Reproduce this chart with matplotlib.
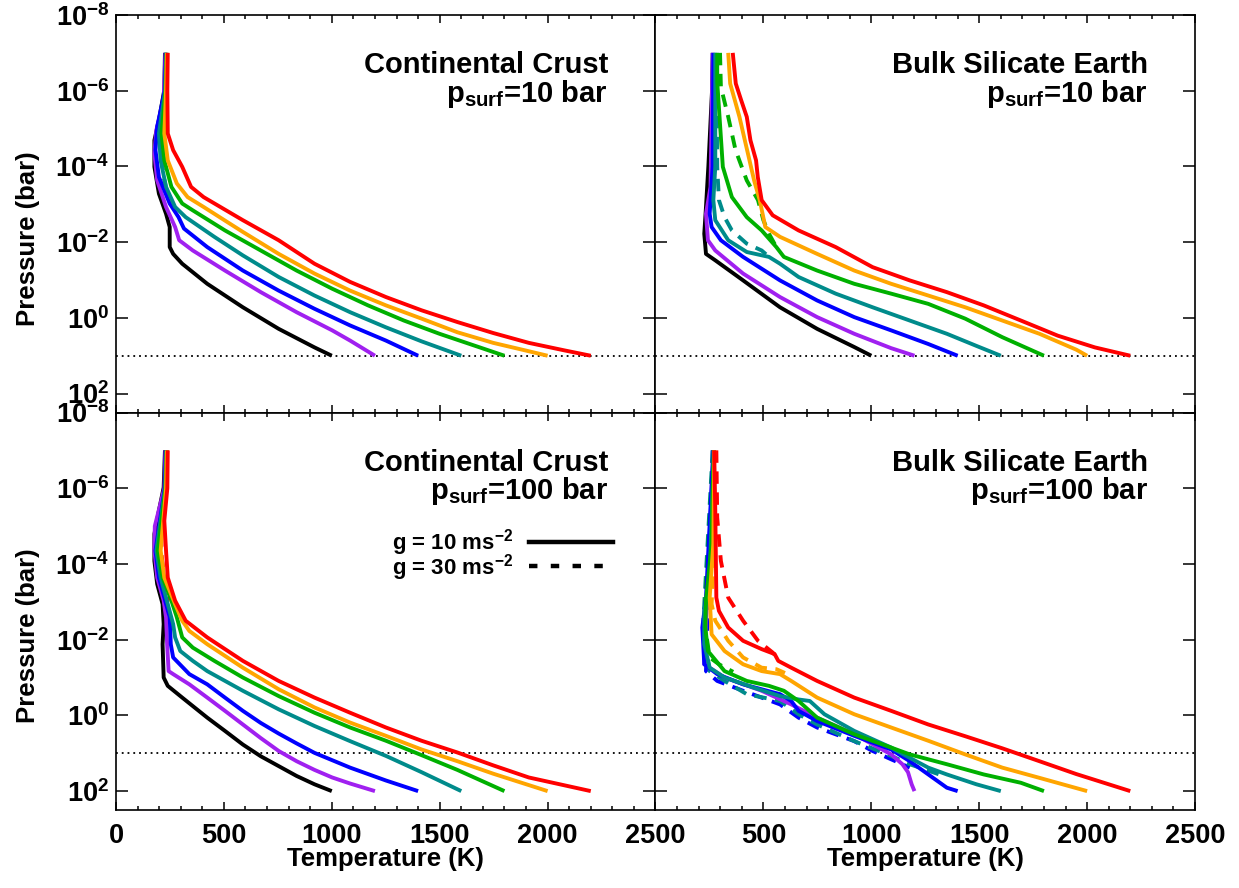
import numpy as np
import matplotlib
matplotlib.use("Agg")
import matplotlib.pyplot as plt
from matplotlib.lines import Line2D
from matplotlib.ticker import FixedLocator, FixedFormatter, MultipleLocator, NullLocator

# colours of the surface-temperature series (1000 ... 2200 K)
BLACK, PURPLE, BLUE, TEAL = "#000000", "#a020f0", "#0000ff", "#008b8b"
GREEN, ORANGE, RED = "#00b000", "#ffa500", "#ff0000"

# ---- Continental crust, p_surf = 10 bar (temperature K, log10 pressure bar)
cc10_black_t = [227, 224, 199, 178, 178, 199, 232, 249, 249, 265, 307, 423, 588, 754, 920, 1000]
cc10_black_lp = [-7, -6.02, -5.22, -4.69, -3.99, -3.28, -2.75, -2.40, -1.87, -1.69, -1.43, -0.90, -0.28, 0.29, 0.78, 1]
cc10_purple_t = [229, 221, 187, 178, 191, 232, 274, 293, 356, 505, 671, 837, 1002, 1085, 1200]
cc10_purple_lp = [-7, -5.75, -4.96, -4.34, -3.63, -2.93, -2.40, -2.05, -1.78, -1.25, -0.68, -0.15, 0.33, 0.60, 1]
cc10_blue_t = [231, 226, 191, 183, 199, 249, 290, 315, 423, 588, 754, 920, 1085, 1251, 1400]
cc10_blue_lp = [-7, -6, -5.05, -4.43, -3.72, -3.02, -2.66, -2.36, -1.87, -1.25, -0.72, -0.24, 0.20, 0.60, 1]
cc10_teal_t = [233, 228, 199, 207, 232, 274, 323, 456, 588, 754, 920, 1085, 1251, 1416, 1600]
cc10_teal_lp = [-7, -6, -4.87, -4.16, -3.46, -2.93, -2.66, -2.14, -1.65, -1.08, -0.59, -0.15, 0.25, 0.62, 1]
cc10_green_t = [235, 230, 211, 224, 257, 307, 356, 505, 671, 837, 1002, 1168, 1334, 1499, 1665, 1800]
cc10_green_lp = [-7, -6, -4.87, -4.16, -3.46, -3.02, -2.84, -2.31, -1.78, -1.25, -0.77, -0.33, 0.07, 0.42, 0.74, 1]
cc10_orange_t = [236, 232, 224, 240, 282, 332, 406, 588, 754, 920, 1085, 1251, 1416, 1582, 1748, 1897, 2000]
cc10_orange_lp = [-7, -6, -4.87, -4.16, -3.55, -3.19, -2.93, -2.27, -1.69, -1.17, -0.72, -0.33, 0.02, 0.38, 0.66, 0.86, 1]
cc10_red_t = [240, 238, 240, 265, 307, 348, 406, 588, 754, 920, 1085, 1251, 1416, 1582, 1748, 1913, 2079, 2200]
cc10_red_lp = [-7, -6, -4.87, -4.43, -3.99, -3.46, -3.19, -2.58, -2.05, -1.43, -0.95, -0.55, -0.20, 0.11, 0.40, 0.66, 0.86, 1]
cc10_teal_dash_t = [233, 228, 212, 210, 222, 245]
cc10_teal_dash_lp = [-7, -6, -4.9, -4.3, -3.7, -3.1]

# ---- Bulk silicate Earth, p_surf = 10 bar
bse10_black_t = [265, 262, 245, 234, 226, 234, 277, 406, 577, 749, 921, 1000]
bse10_black_lp = [-7, -6, -4.0, -2.93, -2.22, -1.69, -1.52, -0.99, -0.28, 0.29, 0.77, 1]
bse10_purple_t = [265, 262, 255, 234, 243, 277, 406, 577, 749, 921, 1092, 1200]
bse10_purple_lp = [-7, -6, -3.46, -2.75, -2.05, -1.78, -1.17, -0.55, -0.02, 0.42, 0.80, 1]
bse10_blue_t = [268, 265, 251, 260, 303, 406, 577, 749, 921, 1092, 1264, 1400]
bse10_blue_lp = [-7, -4.0, -2.75, -2.40, -2.05, -1.61, -0.99, -0.46, -0.02, 0.33, 0.69, 1]
bse10_teal_t = [277, 277, 268, 277, 337, 423, 526, 577, 663, 835, 1006, 1178, 1350, 1487, 1600]
bse10_teal_lp = [-7, -3.99, -3.11, -2.58, -2.05, -1.74, -1.61, -1.43, -1.08, -0.64, -0.28, 0.07, 0.42, 0.74, 1]
bse10_green_t = [286, 286, 312, 354, 423, 492, 560, 595, 749, 921, 1092, 1264, 1435, 1607, 1800]
bse10_green_lp = [-7, -6.24, -3.99, -3.19, -2.66, -2.31, -1.87, -1.61, -1.25, -0.90, -0.64, -0.37, 0.02, 0.51, 1]
bse10_orange_t = [337, 346, 389, 414, 432, 457, 483, 509, 577, 749, 921, 1092, 1264, 1435, 1607, 1779, 1950, 2000]
bse10_orange_lp = [-7, -6.19, -5.31, -4.69, -4.25, -3.63, -3.11, -2.40, -2.14, -1.69, -1.25, -0.90, -0.59, -0.28, 0.07, 0.42, 0.84, 1]
bse10_red_t = [358, 372, 397, 423, 440, 466, 474, 492, 543, 663, 835, 1006, 1178, 1350, 1521, 1693, 1864, 2036, 2200]
bse10_red_lp = [-7, -6.19, -5.75, -5.31, -4.69, -4.16, -3.72, -3.11, -2.71, -2.31, -1.87, -1.34, -0.99, -0.68, -0.33, 0.07, 0.47, 0.78, 1]
bse10_teal_dash_t = [282, 286, 294, 320, 354, 423, 492, 526]
bse10_teal_dash_lp = [-7, -3.99, -3.11, -2.66, -2.31, -1.96, -1.78, -1.61]
bse10_green_dash_t = [299, 303, 337, 371, 423, 475, 500, 526, 560]
bse10_green_dash_lp = [-7, -6.10, -5.31, -4.43, -3.63, -3.11, -2.58, -2.22, -1.87]

# ---- Continental crust, p_surf = 100 bar
cc100_black_t = [227, 221, 199, 178, 178, 191, 216, 221, 216, 221, 240, 307, 423, 505, 588, 671, 754, 837, 920, 1000]
cc100_black_lp = [-7, -6.02, -5.41, -4.79, -4.08, -3.47, -2.94, -2.41, -1.88, -1.0, -0.78, -0.47, 0.06, 0.41, 0.77, 1.08, 1.34, 1.60, 1.82, 2]
cc100_purple_t = [229, 224, 180, 178, 191, 221, 232, 237, 244, 265, 340, 423, 505, 588, 671, 754, 837, 920, 1002, 1085, 1200]
cc100_purple_lp = [-7, -6, -5.0, -4.35, -3.64, -3.03, -2.59, -1.88, -1.17, -1.09, -0.82, -0.47, -0.12, 0.24, 0.60, 0.94, 1.21, 1.44, 1.64, 1.80, 2]
cc100_blue_t = [231, 226, 183, 199, 224, 249, 254, 265, 340, 423, 505, 588, 671, 754, 837, 920, 1085, 1251, 1400]
cc100_blue_lp = [-7, -6, -4.35, -3.64, -3.11, -2.59, -1.88, -1.53, -1.09, -0.82, -0.47, -0.12, 0.20, 0.48, 0.74, 0.99, 1.38, 1.72, 2]
cc100_teal_t = [233, 228, 187, 207, 240, 265, 274, 298, 356, 423, 588, 754, 920, 1085, 1251, 1416, 1600]
cc100_teal_lp = [-7, -6, -4.35, -3.64, -2.94, -2.41, -2.06, -1.70, -1.44, -1.17, -0.65, -0.16, 0.28, 0.68, 1.07, 1.50, 2]
cc100_green_t = [235, 230, 194, 216, 257, 282, 307, 356, 456, 588, 754, 920, 1085, 1251, 1416, 1582, 1800]
cc100_green_lp = [-7, -6, -4.35, -3.64, -3.03, -2.59, -2.06, -1.79, -1.44, -1.0, -0.51, -0.07, 0.32, 0.67, 1.05, 1.44, 2]
cc100_orange_t = [236, 232, 207, 224, 274, 307, 340, 423, 588, 754, 920, 1085, 1251, 1416, 1582, 1748, 2000]
cc100_orange_lp = [-7, -6, -4.35, -3.64, -2.94, -2.50, -2.23, -1.88, -1.26, -0.69, -0.21, 0.19, 0.54, 0.90, 1.21, 1.54, 2]
cc100_red_t = [240, 238, 224, 232, 240, 274, 323, 423, 588, 754, 920, 1085, 1251, 1416, 1582, 1748, 1913, 2200]
cc100_red_lp = [-7, -6, -5.14, -4.35, -3.64, -3.03, -2.50, -2.06, -1.44, -0.91, -0.47, -0.07, 0.32, 0.67, 0.98, 1.32, 1.64, 2]
cc100_red_dash_t = [236, 222, 210, 212, 225, 240]
cc100_red_dash_lp = [-7, -5.5, -4.7, -4.2, -3.6, -3.0]

# ---- Bulk silicate Earth, p_surf = 100 bar
bse100_purple_t = [268, 226, 320, 492, 629, 749, 921, 1092, 1144, 1170, 1187, 1200]
bse100_purple_lp = [-7, -1.35, -1.0, -0.65, -0.29, 0.06, 0.50, 1.03, 1.29, 1.50, 1.82, 2]
bse100_blue_t = [268, 234, 217, 226, 286, 406, 577, 629, 663, 749, 921, 1092, 1178, 1264, 1350, 1400]
bse100_blue_lp = [-7, -3.11, -2.32, -1.35, -1.09, -0.82, -0.56, -0.38, -0.12, 0.15, 0.54, 0.90, 1.21, 1.56, 1.91, 2]
bse100_teal_t = [270, 251, 226, 226, 251, 320, 457, 577, 663, 715, 783, 921, 1092, 1178, 1264, 1350, 1487, 1600]
bse100_teal_lp = [-7, -3.64, -2.76, -1.88, -1.26, -1.0, -0.73, -0.51, -0.42, -0.38, -0.03, 0.41, 0.85, 1.12, 1.38, 1.56, 1.82, 2]
bse100_green_t = [270, 260, 234, 231, 243, 320, 423, 526, 595, 663, 749, 921, 1092, 1178, 1350, 1521, 1693, 1800]
bse100_green_lp = [-7, -4.53, -3.03, -2.32, -1.70, -1.17, -0.91, -0.78, -0.65, -0.38, 0.06, 0.50, 0.85, 1.03, 1.29, 1.56, 1.78, 2]
bse100_orange_t = [272, 268, 251, 260, 320, 406, 492, 577, 629, 749, 921, 1092, 1264, 1435, 1607, 1779, 2000]
bse100_orange_lp = [-7, -4.53, -3.11, -2.14, -1.70, -1.35, -1.17, -1.09, -0.91, -0.47, -0.03, 0.32, 0.67, 1.03, 1.38, 1.65, 2]
bse100_red_t = [272, 277, 282, 294, 337, 406, 492, 552, 569, 629, 749, 921, 1092, 1264, 1435, 1607, 1779, 1950, 2200]
bse100_red_lp = [-7, -5.41, -3.11, -2.76, -2.32, -1.97, -1.75, -1.62, -1.44, -1.26, -0.91, -0.47, -0.12, 0.24, 0.55, 0.87, 1.21, 1.55, 2]
bse100_blue_dash_t = [265, 234, 286, 406, 492, 577, 663, 749, 921, 1006, 1092, 1178]
bse100_blue_dash_lp = [-7, -1.17, -0.91, -0.65, -0.47, -0.29, 0.06, 0.32, 0.68, 0.94, 1.16, 1.38]
bse100_teal_dash_t = [265, 220, 251, 320, 423, 577, 663, 749, 921, 1092, 1178, 1315]
bse100_teal_dash_lp = [-7, -2.32, -1.17, -0.91, -0.56, -0.38, -0.03, 0.24, 0.68, 1.07, 1.29, 1.56]
bse100_green_dash_t = [268, 226, 251, 294, 360]
bse100_green_dash_lp = [-7, -2.5, -1.53, -1.35, -1.15]
bse100_orange_dash_t = [270, 265, 260, 277, 337, 406, 492, 560, 600]
bse100_orange_dash_lp = [-7, -3.64, -2.94, -2.50, -1.97, -1.53, -1.26, -1.22, -1.12]
bse100_red_dash_t = [282, 286, 303, 337, 406, 475, 543, 569]
bse100_red_dash_lp = [-7, -5.23, -4.08, -3.11, -2.50, -1.97, -1.66, -1.50]

Y_TICKS = [1e-8, 1e-6, 1e-4, 1e-2, 1e0, 1e2]
Y_LABELS = [r"$10^{-8}$", r"$10^{-6}$", r"$10^{-4}$", r"$10^{-2}$", r"$10^{0}$", r"$10^{2}$"]
X_TICKS = [0, 500, 1000, 1500, 2000, 2500]

plt.rcParams["font.family"] = ["Liberation Sans", "DejaVu Sans"]
plt.rcParams["font.weight"] = "bold"
plt.rcParams["mathtext.fontset"] = "custom"
plt.rcParams["mathtext.rm"] = "Liberation Sans:bold"
plt.rcParams["mathtext.it"] = "Liberation Sans:bold"
plt.rcParams["mathtext.bf"] = "Liberation Sans:bold"
plt.rcParams["mathtext.default"] = "regular"

LW = 2.8
DASH = (0, (3.2, 2.2))


def curve(ax, t, lp, color, dashed=False):
    ls = DASH if dashed else "-"
    ax.plot(t, np.power(10.0, lp), color=color, lw=LW, ls=ls,
            solid_capstyle="butt", dash_capstyle="butt", zorder=2 if dashed else 3)


fig, axes = plt.subplots(2, 2, figsize=(12.39, 8.88), dpi=100)
fig.subplots_adjust(left=0.0936, right=0.9645, top=0.9831, bottom=0.0878,
                    hspace=0, wspace=0)
(ax_cc10, ax_bse10), (ax_cc100, ax_bse100) = axes

# dashed (g = 30) first so the solid runs sit on top
curve(ax_cc10, cc10_teal_dash_t, cc10_teal_dash_lp, TEAL, True)
for t, lp, c in [(cc10_black_t, cc10_black_lp, BLACK), (cc10_purple_t, cc10_purple_lp, PURPLE),
                 (cc10_blue_t, cc10_blue_lp, BLUE), (cc10_teal_t, cc10_teal_lp, TEAL),
                 (cc10_green_t, cc10_green_lp, GREEN), (cc10_orange_t, cc10_orange_lp, ORANGE),
                 (cc10_red_t, cc10_red_lp, RED)]:
    curve(ax_cc10, t, lp, c)

curve(ax_bse10, bse10_teal_dash_t, bse10_teal_dash_lp, TEAL, True)
curve(ax_bse10, bse10_green_dash_t, bse10_green_dash_lp, GREEN, True)
for t, lp, c in [(bse10_black_t, bse10_black_lp, BLACK), (bse10_purple_t, bse10_purple_lp, PURPLE),
                 (bse10_blue_t, bse10_blue_lp, BLUE), (bse10_teal_t, bse10_teal_lp, TEAL),
                 (bse10_green_t, bse10_green_lp, GREEN), (bse10_orange_t, bse10_orange_lp, ORANGE),
                 (bse10_red_t, bse10_red_lp, RED)]:
    curve(ax_bse10, t, lp, c)

curve(ax_cc100, cc100_red_dash_t, cc100_red_dash_lp, RED, True)
for t, lp, c in [(cc100_black_t, cc100_black_lp, BLACK), (cc100_purple_t, cc100_purple_lp, PURPLE),
                 (cc100_blue_t, cc100_blue_lp, BLUE), (cc100_teal_t, cc100_teal_lp, TEAL),
                 (cc100_green_t, cc100_green_lp, GREEN), (cc100_orange_t, cc100_orange_lp, ORANGE),
                 (cc100_red_t, cc100_red_lp, RED)]:
    curve(ax_cc100, t, lp, c)

for t, lp, c in [(bse100_blue_dash_t, bse100_blue_dash_lp, BLUE),
                 (bse100_teal_dash_t, bse100_teal_dash_lp, TEAL),
                 (bse100_green_dash_t, bse100_green_dash_lp, GREEN),
                 (bse100_orange_dash_t, bse100_orange_dash_lp, ORANGE),
                 (bse100_red_dash_t, bse100_red_dash_lp, RED)]:
    curve(ax_bse100, t, lp, c, True)
for t, lp, c in [(bse100_purple_t, bse100_purple_lp, PURPLE), (bse100_blue_t, bse100_blue_lp, BLUE),
                 (bse100_teal_t, bse100_teal_lp, TEAL), (bse100_green_t, bse100_green_lp, GREEN),
                 (bse100_orange_t, bse100_orange_lp, ORANGE), (bse100_red_t, bse100_red_lp, RED)]:
    curve(ax_bse100, t, lp, c)

titles = {ax_cc10: ("Continental Crust", "10"), ax_bse10: ("Bulk Silicate Earth", "10"),
          ax_cc100: ("Continental Crust", "100"), ax_bse100: ("Bulk Silicate Earth", "100")}

for ax in axes.flat:
    ax.set_yscale("log")
    ax.set_xlim(0, 2500)
    ax.set_ylim(10 ** 2.5, 1e-8)
    ax.axhline(10, color="black", lw=1.3, ls=(0, (1, 2.2)), zorder=1)
    ax.yaxis.set_major_locator(FixedLocator(Y_TICKS))
    ax.yaxis.set_minor_locator(NullLocator())
    ax.yaxis.set_major_formatter(FixedFormatter(Y_LABELS))
    ax.xaxis.set_major_locator(FixedLocator(X_TICKS))
    ax.xaxis.set_minor_locator(MultipleLocator(100))
    ax.tick_params(axis="both", which="both", direction="in", top=True, right=True,
                   labelsize=19.5, width=1.1)
    ax.tick_params(axis="x", which="major", length=6, pad=9)
    ax.tick_params(axis="x", which="minor", length=3)
    ax.tick_params(axis="y", which="major", length=8.5, pad=5)
    for s in ax.spines.values():
        s.set_linewidth(1.2)
    name, ps = titles[ax]
    ax.text(0.912, 0.853, name, transform=ax.transAxes, ha="right", va="baseline",
            fontsize=21, fontweight="bold")
    ax.text(0.912, 0.782, r"$p_{surf}$=" + ps + " bar", transform=ax.transAxes,
            ha="right", va="baseline", fontsize=21, fontweight="bold")

for ax in (ax_cc10, ax_bse10):
    ax.tick_params(axis="x", labelbottom=False)
for ax in (ax_bse10, ax_bse100):
    ax.tick_params(axis="y", labelleft=False)
ax_bse100.xaxis.set_major_formatter(FixedFormatter(["", "500", "1000", "1500", "2000", "2500"]))

# g legend in the lower-left panel
handles = [Line2D([], [], color="black", lw=3.2),
           Line2D([], [], color="black", lw=3.2, ls=(0, (1.9, 3.0)))]
ax_cc100.legend(handles, [r"g = 10 ms$^{-2}$", r"g = 30 ms$^{-2}$"], loc="upper right",
                bbox_to_anchor=(0.922, 0.712), frameon=False, markerfirst=False,
                fontsize=16, handlelength=3.8, handletextpad=0.7, labelspacing=-0.28,
                borderpad=0, borderaxespad=0)

for y in (0.7315, 0.2845):
    fig.text(28 / 1239, y, "Pressure (bar)", rotation=90, ha="center", va="center",
             fontsize=18.5, fontweight="bold")
for x in (385 / 1239, 925 / 1239):
    fig.text(x, 1 - 859 / 888, "Temperature (K)", ha="center", va="center",
             fontsize=18.5, fontweight="bold")

fig.savefig("out.png", dpi=100)
